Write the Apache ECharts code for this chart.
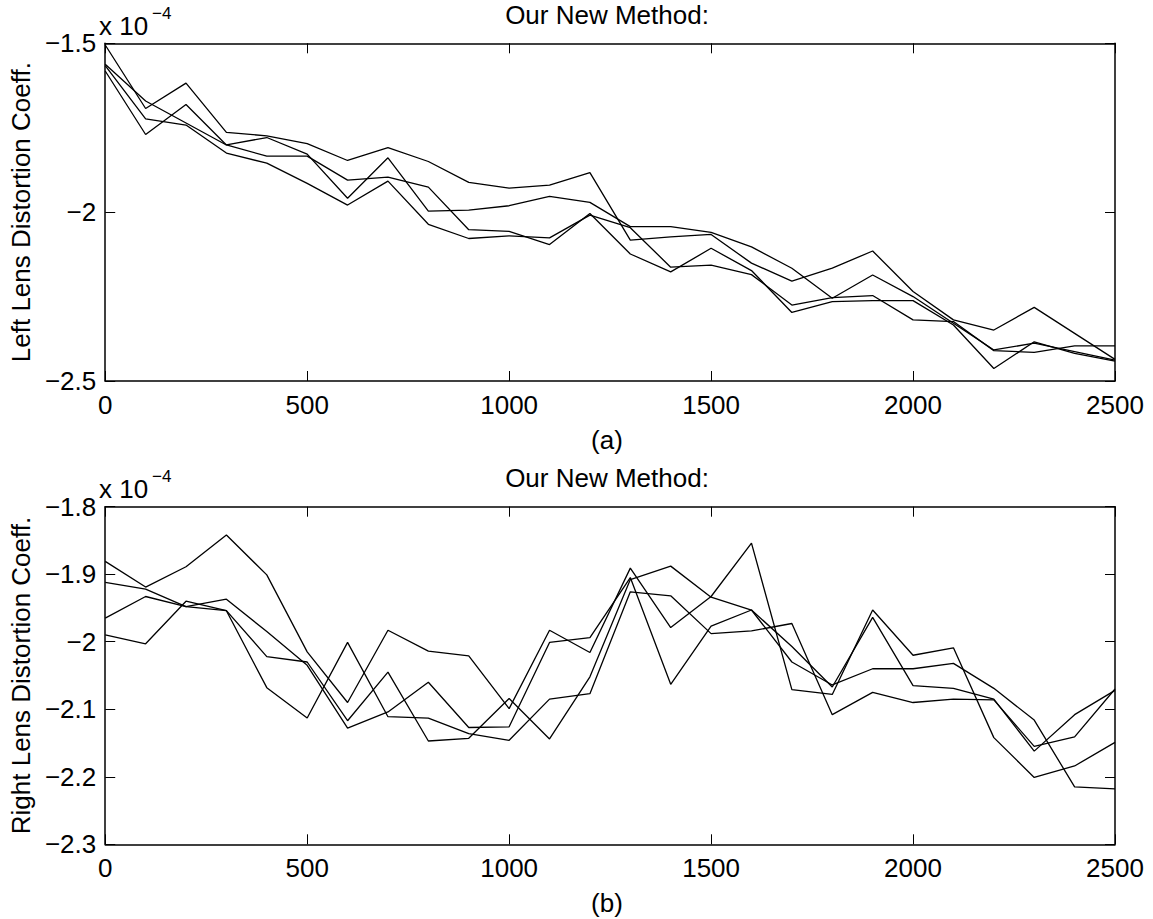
<!DOCTYPE html>
<html>
<head>
<meta charset="utf-8">
<script src="https://cdn.jsdelivr.net/npm/echarts@6/dist/echarts.min.js"></script>
<style>
html,body{margin:0;padding:0;background:#fff;}
#chart{width:1153px;height:919px;}
</style>
</head>
<body>
<div id="chart"></div>
<script>
// x positions (iterations)
const xValues = [0,100,200,300,400,500,600,700,800,900,1000,1100,1200,1300,1400,1500,1600,1700,1800,1900,2000,2100,2200,2300,2400,2500];

// (a) Left lens distortion coefficient, units of 1e-4
const left1 = [-1.505,-1.693,-1.618,-1.764,-1.774,-1.797,-1.847,-1.809,-1.850,-1.912,-1.929,-1.920,-1.883,-2.083,-2.073,-2.066,-2.151,-2.204,-2.166,-2.115,-2.235,-2.319,-2.349,-2.282,-2.359,-2.436];
const left2 = [-1.562,-1.671,-1.736,-1.801,-1.834,-1.834,-1.905,-1.896,-1.926,-2.052,-2.057,-2.096,-2.004,-2.124,-2.177,-2.107,-2.173,-2.297,-2.265,-2.262,-2.262,-2.334,-2.463,-2.384,-2.418,-2.441];
const left3 = [-1.566,-1.724,-1.742,-1.825,-1.855,-1.915,-1.979,-1.908,-2.036,-2.078,-2.070,-2.076,-2.009,-2.046,-2.163,-2.157,-2.185,-2.275,-2.253,-2.247,-2.319,-2.324,-2.410,-2.415,-2.396,-2.396];
const left4 = [-1.582,-1.770,-1.681,-1.801,-1.779,-1.828,-1.959,-1.839,-1.997,-1.994,-1.981,-1.953,-1.971,-2.043,-2.043,-2.060,-2.103,-2.166,-2.255,-2.186,-2.250,-2.329,-2.408,-2.388,-2.413,-2.438];

// (b) Right lens distortion coefficient, units of 1e-4
const right1 = [-1.881,-1.919,-1.889,-1.842,-1.901,-2.015,-2.090,-1.983,-2.014,-2.021,-2.099,-1.983,-2.016,-1.891,-1.979,-1.933,-1.854,-2.071,-2.078,-1.953,-2.020,-2.009,-2.142,-2.201,-2.184,-2.149];
const right2 = [-1.912,-1.922,-1.948,-1.954,-2.022,-2.030,-2.117,-2.045,-2.147,-2.143,-2.084,-2.144,-2.052,-1.908,-1.888,-1.934,-1.953,-2.007,-2.067,-1.964,-2.065,-2.069,-2.085,-2.162,-2.108,-2.072];
const right3 = [-1.965,-1.933,-1.948,-1.937,-1.985,-2.035,-2.128,-2.104,-2.060,-2.127,-2.126,-2.001,-1.994,-1.905,-2.063,-1.977,-1.953,-2.030,-2.064,-2.040,-2.040,-2.032,-2.069,-2.116,-2.215,-2.218];
const right4 = [-1.990,-2.003,-1.940,-1.954,-2.068,-2.113,-2.001,-2.111,-2.113,-2.136,-2.146,-2.085,-2.077,-1.926,-1.932,-1.988,-1.984,-1.973,-2.108,-2.075,-2.090,-2.085,-2.086,-2.155,-2.141,-2.070];

const titleText = 'Our New Method:';
const leftYName = 'Left Lens Distortion Coeff.';
const rightYName = 'Right Lens Distortion Coeff.';

const FONT = '"Liberation Sans", Arial, Helvetica, sans-serif';
const FS = 26;

function fmtY(v){ return String(+v.toFixed(2)).replace('-', '\u2212'); }
function fmtX(v){ return String(Math.round(v)); }

function xAx(grid, pos){
  return {
    type:'value', gridIndex:grid, position:pos, min:0, max:2500, interval:500,
    axisLine:{show:true, onZero:false, lineStyle:{color:'#000', width:1.5}},
    axisTick:{show:true, inside:true, length:10, lineStyle:{color:'#000', width:1}},
    axisLabel:{show:pos==='bottom', color:'#000', fontSize:FS, fontFamily:FONT, margin:11, formatter:fmtX, showMinLabel:true, showMaxLabel:true},
    splitLine:{show:false}
  };
}
function yAx(grid, pos, min, max, interval, name){
  return {
    type:'value', gridIndex:grid, position:pos, min:min, max:max, interval:interval,
    name: pos==='left' ? name : '', nameLocation:'middle', nameGap:66,
    nameTextStyle:{color:'#000', fontSize:FS, fontFamily:FONT},
    axisLine:{show:true, onZero:false, lineStyle:{color:'#000', width:1.5}},
    axisTick:{show:true, inside:true, length:10, lineStyle:{color:'#000', width:1}},
    axisLabel:{show:pos==='left', color:'#000', fontSize:FS, fontFamily:FONT, margin:9, formatter:fmtY, showMinLabel:true, showMaxLabel:true},
    splitLine:{show:false}
  };
}
function ser(arr, xi, yi){
  return {
    type:'line', xAxisIndex:xi, yAxisIndex:yi, showSymbol:false, symbol:'none',
    lineStyle:{color:'#000', width:1.3}, data: xValues.map((x,i)=>[x, arr[i]]),
    animation:false, silent:true
  };
}
function txt(x, y, s, size, align){
  return {type:'text', x:x, y:y, silent:true,
    style:{text:s, fill:'#000', fontSize:size, fontFamily:FONT, align:align||'center', verticalAlign:'middle'}};
}

const chart = echarts.init(document.getElementById('chart'), null, {renderer:'svg'});
chart.setOption({
  backgroundColor:'#fff',
  animation:false,
  textStyle:{fontFamily:FONT},
  grid:[
    {left:98.7, top:43.3, width:1016.3, height:337.7},
    {left:98.7, top:506.7, width:1016.3, height:337.6}
  ],
  xAxis:[xAx(0,'bottom'), xAx(0,'top'), xAx(1,'bottom'), xAx(1,'top')],
  yAxis:[
    yAx(0,'left',-2.5,-1.5,0.5,leftYName), yAx(0,'right',-2.5,-1.5,0.5,''),
    yAx(1,'left',-2.3,-1.8,0.1,rightYName), yAx(1,'right',-2.3,-1.8,0.1,'')
  ],
  series:[
    ser(left1,0,0), ser(left2,0,0), ser(left3,0,0), ser(left4,0,0),
    ser(right1,2,2), ser(right2,2,2), ser(right3,2,2), ser(right4,2,2)
  ],
  graphic:[
    txt(607, 15, titleText, FS),
    txt(607, 440, '(a)', FS),
    txt(99, 26, 'x 10', FS, 'left'),
    txt(152, 13, '\u22124', 17, 'left'),
    txt(607, 478, titleText, FS),
    txt(607, 903, '(b)', FS),
    txt(99, 489, 'x 10', FS, 'left'),
    txt(152, 476, '\u22124', 17, 'left')
  ]
});
</script>
</body>
</html>
